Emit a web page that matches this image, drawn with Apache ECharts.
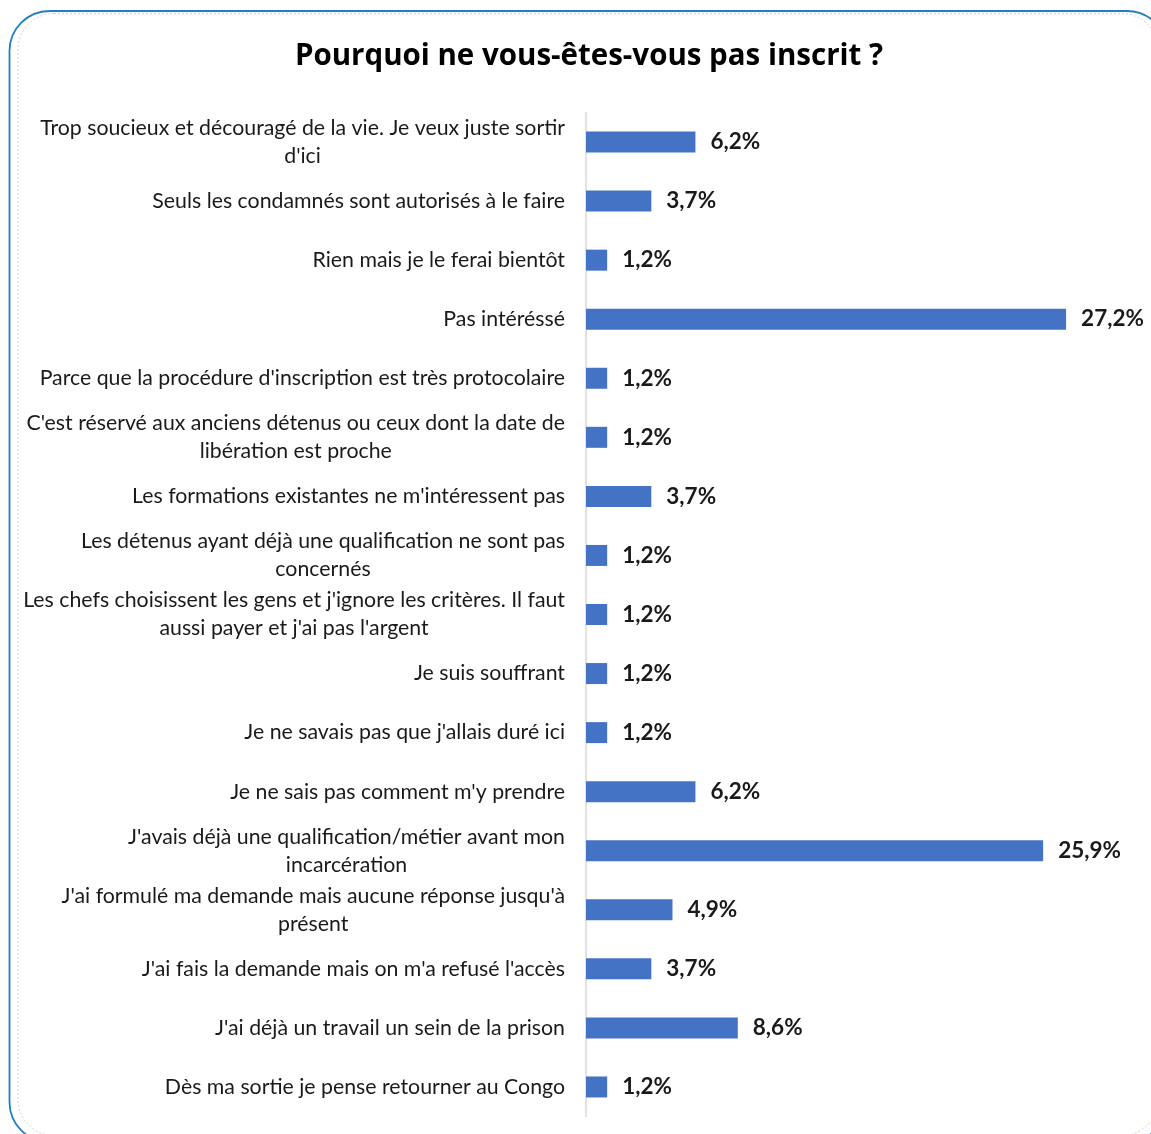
<!DOCTYPE html>
<html>
<head>
<meta charset="utf-8">
<script src="https://cdn.jsdelivr.net/npm/echarts@6/dist/echarts.min.js"></script>
<style>
html,body{margin:0;padding:0;background:#fff;}
#chart{width:1151px;height:1134px;}
</style>
</head>
<body>
<div id="chart"></div>
<script>
const titleText = "Pourquoi ne vous-êtes-vous pas inscrit ?";
const categories = [
  "Trop soucieux et découragé de la vie. Je veux juste sortir\nd'ici",
  "Seuls les condamnés sont autorisés à le faire",
  "Rien mais je le ferai bientôt",
  "Pas intéréssé",
  "Parce que la procédure d'inscription est très protocolaire",
  "C'est réservé aux anciens détenus ou ceux dont la date de\nlibération est proche",
  "Les formations existantes ne m'intéressent pas",
  "Les détenus ayant déjà une qualification ne sont pas\nconcernés",
  "Les chefs choisissent les gens et j'ignore les critères. Il faut\naussi payer et j'ai pas l'argent",
  "Je suis souffrant",
  "Je ne savais pas que j'allais duré ici",
  "Je ne sais pas comment m'y prendre",
  "J'avais déjà une qualification/métier avant mon\nincarcération",
  "J'ai formulé ma demande mais aucune réponse jusqu'à\nprésent",
  "J'ai fais la demande mais on m'a refusé l'accès",
  "J'ai déjà un travail un sein de la prison",
  "Dès ma sortie je pense retourner au Congo"
];
const values = [6.2, 3.7, 1.2, 27.2, 1.2, 1.2, 3.7, 1.2, 1.2, 1.2, 1.2, 6.2, 25.9, 4.9, 3.7, 8.6, 1.2];

const chart = echarts.init(document.getElementById('chart'), null, {renderer: 'canvas'});
const FONT = 'Lato, "Noto Sans", sans-serif';
chart.setOption({
  backgroundColor: '#ffffff',
  animation: false,
  title: {
    text: titleText,
    left: 584, top: 37, textAlign: 'center',
    textStyle: {fontFamily: '"Open Sans", Lato, sans-serif', fontSize: 29.5, fontWeight: 'bold', color: '#000'}
  },
  graphic: [
    {type: 'rect', silent: true, z: -1,
     shape: {x: 18, y: 13.5, width: 1140, height: 1122, r: 36},
     style: {fill: 'none', stroke: '#d0d0d0', lineWidth: 1, lineDash: [2, 2]}},
    {type: 'rect', silent: true, z: 10,
     shape: {x: 9.5, y: 11, width: 1157.5, height: 1131, r: 40},
     style: {fill: 'none', stroke: '#2080c0', lineWidth: 1.8}}
  ],
  grid: {left: 586, top: 112.5, bottom: 17.5, right: 35.5, containLabel: false},
  xAxis: {
    type: 'value', min: 0, max: 30, show: false,
    splitLine: {show: false}
  },
  yAxis: {
    type: 'category', data: categories, inverse: true,
    axisLine: {show: true, lineStyle: {color: '#d9d9d9', width: 1.5}},
    axisTick: {show: false},
    axisLabel: {
      margin: 21,
      fontFamily: FONT, fontSize: 21.3, color: '#1a1a1a', lineHeight: 28,
      formatter: function (v) {
        if (v.indexOf('\n') < 0) return v;
        return v.split('\n').map(function (l) { return '{c|' + l + '}'; }).join('\n');
      },
      rich: {c: {align: 'center', fontFamily: FONT, fontSize: 21.3, color: '#1a1a1a', lineHeight: 28}}
    }
  },
  series: [{
    type: 'bar', data: values, barWidth: 21,
    itemStyle: {color: '#4472C4'},
    label: {
      show: true, position: 'right', distance: 15,
      fontFamily: FONT, fontSize: 22.5, fontWeight: 'bold', color: '#1a1a1a',
      formatter: function (p) { return p.value.toFixed(1).replace('.', ',') + '%'; }
    }
  }]
});
</script>
</body>
</html>
